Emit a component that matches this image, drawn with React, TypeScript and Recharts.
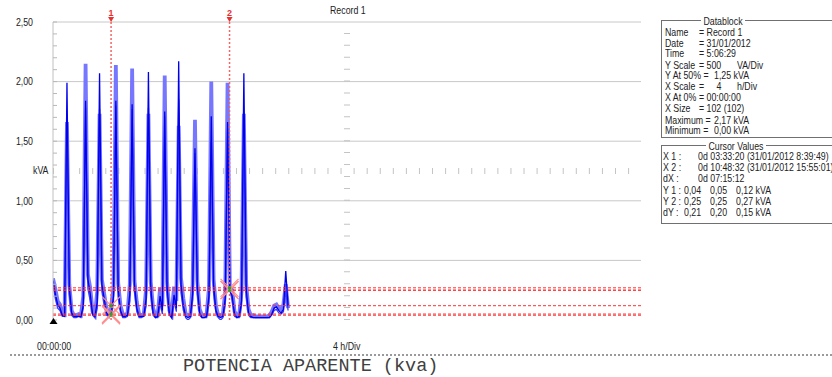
import { LineChart, Line, XAxis, YAxis, CartesianGrid, ReferenceLine, ReferenceDot } from 'recharts';

// one reading every 8.55 min, 102 readings starting at 00:00:00
const STEP_H = 8.55 / 60;

// three channels, kVA
const l1 = [
  0.33, 0.22, 0.13, 0.10, 0.04, 0.03, 1.99, 0.28, 0.06, 0.03,
  0.03, 0.03, 0.03, 0.12, 1.84, 0.34, 0.22, 0.05, 0.03, 0.15,
  2.07, 0.30, 0.18, 0.06, 0.03, 0.04, 0.20, 1.84, 0.26, 0.08,
  0.03, 0.03, 0.04, 0.22, 1.81, 0.30, 0.10, 0.03, 0.03, 0.03,
  0.18, 2.08, 0.27, 0.06, 0.02, 0.03, 0.20, 0.08, 1.75, 0.28,
  0.05, 0.02, 0.21, 0.10, 2.17, 0.30, 0.12, 0.03, 0.02, 0.03,
  0.22, 1.44, 0.28, 0.06, 0.02, 0.02, 0.03, 0.20, 1.71, 0.29,
  0.08, 0.03, 0.02, 0.03, 0.18, 1.66, 0.25, 0.20, 0.05, 0.02,
  0.03, 0.16, 2.07, 0.26, 0.06, 0.03, 0.02, 0.02, 0.02, 0.02,
  0.02, 0.02, 0.02, 0.02, 0.05, 0.10, 0.11, 0.08, 0.06, 0.09,
  0.41, 0.12,
];
const l2 = [
  0.30, 0.18, 0.10, 0.08, 0.03, 0.03, 1.70, 0.22, 0.04, 0.02,
  0.02, 0.03, 0.02, 0.10, 1.78, 0.26, 0.16, 0.04, 0.02, 0.10,
  1.77, 0.24, 0.12, 0.04, 0.03, 0.05, 0.15, 1.80, 0.20, 0.06,
  0.02, 0.02, 0.03, 0.16, 1.77, 0.24, 0.07, 0.02, 0.02, 0.03,
  0.12, 1.78, 0.21, 0.04, 0.02, 0.02, 0.14, 0.05, 1.71, 0.22,
  0.04, 0.02, 0.16, 0.07, 1.85, 0.23, 0.08, 0.02, 0.00, 0.02,
  0.17, 1.40, 0.22, 0.04, 0.02, 0.02, 0.02, 0.15, 1.50, 0.23,
  0.06, 0.02, 0.00, 0.02, 0.13, 1.60, 0.25, 0.16, 0.03, 0.02,
  0.02, 0.12, 1.62, 0.20, 0.04, 0.02, 0.02, 0.02, 0.02, 0.02,
  0.02, 0.02, 0.02, 0.02, 0.04, 0.08, 0.09, 0.06, 0.05, 0.07,
  0.25, 0.08,
];
const l3 = [
  0.35, 0.26, 0.16, 0.13, 0.06, 0.05, 1.66, 0.30, 0.08, 0.04,
  0.04, 0.05, 0.04, 0.20, 2.15, 0.38, 0.27, 0.07, 0.04, 0.24,
  1.73, 0.34, 0.22, 0.09, 0.05, 0.12, 0.28, 2.14, 0.31, 0.12,
  0.05, 0.04, 0.06, 0.30, 2.11, 0.33, 0.15, 0.05, 0.04, 0.05,
  0.26, 1.73, 0.32, 0.10, 0.04, 0.04, 0.27, 0.12, 2.05, 0.32,
  0.08, 0.04, 0.28, 0.16, 1.63, 0.35, 0.18, 0.05, 0.04, 0.04,
  0.30, 1.68, 0.33, 0.09, 0.04, 0.04, 0.05, 0.27, 2.00, 0.34,
  0.12, 0.04, 0.04, 0.05, 0.24, 1.99, 0.27, 0.25, 0.07, 0.04,
  0.04, 0.24, 1.73, 0.30, 0.09, 0.04, 0.04, 0.03, 0.03, 0.03,
  0.03, 0.03, 0.03, 0.04, 0.07, 0.12, 0.13, 0.10, 0.09, 0.13,
  0.30, 0.10,
];

// cursors (hours from start) and the readings under them
const CURSOR_X = [3 + 33 / 60 + 20 / 3600, 10 + 48 / 60 + 32 / 3600];
const CURSOR_TIME = ['0d 03:33:20 (31/01/2012 8:39:49)', '0d 10:48:32 (31/01/2012 15:55:01)'];
const CURSOR_DX = '0d 07:15:12';
const CURSOR_Y1 = [0.04, 0.05, 0.12];
const CURSOR_Y2 = [0.25, 0.25, 0.27];
const CURSOR_DY = [0.21, 0.2, 0.15];

const Y_MAJOR = [0.5, 1, 1.5, 2, 2.5];
const Y_MINOR = Array.from({ length: 26 }, (_, i) => Number((i / 10).toFixed(1)));
const X_MINOR = Array.from({ length: 46 }, (_, i) => Number((i * 0.8).toFixed(1)));

const DATABLOCK = [
  ['Name', '= Record 1', '', ''],
  ['Date', '= 31/01/2012', '', ''],
  ['Time', '= 5:06:29', '', ''],
  ['Y Scale', '= 500', '', 'VA/Div'],
  ['Y At 50% =', '', '1,25 kVA', ''],
  ['X Scale', '=', ' 4', 'h/Div'],
  ['X At 0%', '= 00:00:00', '', ''],
  ['X Size', '= 102 (102)', '', ''],
  ['Maximum =', '', '2,17 kVA', ''],
  ['Minimum =', '', '0,00 kVA', ''],
];

const UI_FONT = '"Liberation Sans", Arial, sans-serif';
const SQUEEZE = 0.8;
const fmt = (v: number) => v.toFixed(2).replace('.', ',');

const rows = l1.map((v, i) => ({ t: i * STEP_H, l1: v, l2: l2[i], l3: l3[i] }));

function KvaTick(props: any) {
  const { x, y, payload } = props;
  const v = payload.value as number;
  const major = Math.abs(v * 2 - Math.round(v * 2)) < 1e-6;
  return (
    <g>
      <line x1={x + 20} x2={x + 24} y1={y} y2={y} stroke="#b8b8b8" />
      {major && (
        <text
          transform={`translate(${x},${y}) scale(${SQUEEZE},1)`}
          dy="0.35em"
          textAnchor="end"
          fontSize={11}
          fontFamily={UI_FONT}
          fill="#222"
        >
          {fmt(v)}
        </text>
      )}
    </g>
  );
}

function CursorTag(props: any) {
  const { viewBox, tag } = props;
  const x = viewBox.x;
  const y = viewBox.y;
  return (
    <g>
      <text x={x} y={y - 6} textAnchor="middle" fontSize={9} fontWeight="bold" fontFamily={UI_FONT} fill="#e83030">
        {tag}
      </text>
      <path d={`M${x - 3},${y - 5} L${x + 3},${y - 5} L${x},${y} Z`} fill="#e83030" />
    </g>
  );
}

function CursorCross(props: any) {
  const { cx, cy } = props;
  return (
    <g stroke="#ff8c8c" strokeWidth={1.2}>
      <line x1={cx - 9} y1={cy - 9} x2={cx + 9} y2={cy + 9} />
      <line x1={cx - 9} y1={cy + 9} x2={cx + 9} y2={cy - 9} />
      <rect x={cx - 1.5} y={cy - 1.5} width={3} height={3} fill="#2e9e2e" stroke="none" />
    </g>
  );
}

// y is the vertical centre of the text line
function Text({ x, y, children, style }: any) {
  return (
    <div
      style={{
        position: 'absolute', left: x, top: y - 5, lineHeight: '10px', whiteSpace: 'pre',
        transform: `scaleX(${SQUEEZE})`, transformOrigin: '0 50%', ...style,
      }}
    >
      {children}
    </div>
  );
}

function GroupBox({ title, titleX, top, height }: any) {
  return (
    <>
      <div style={{ position: 'absolute', left: 661, top, width: 190, height, border: '1px solid #707070' }} />
      <Text x={titleX} y={top + 1} style={{ background: '#fff', padding: '0 3px' }}>{title}</Text>
    </>
  );
}

export default function App() {
  const dbCols = [665, 699, 714, 737];
  const dbRowsY = [32, 43, 53, 65, 75, 86, 97, 108, 120, 130];
  const cvRowsY = [156, 167, 178, 190, 201, 212];
  const yRows = [
    ['Y 1 :', CURSOR_Y1],
    ['Y 2 :', CURSOR_Y2],
    ['dY :', CURSOR_DY],
  ] as [string, number[]][];

  return (
    <div
      style={{
        position: 'absolute', left: 0, top: 0, width: 832, height: 377, overflow: 'hidden',
        background: '#fff', fontFamily: UI_FONT, fontSize: 11, color: '#222',
      }}
    >
      <Text x={330} y={10}>Record 1</Text>
      <Text x={33} y={170}>kVA</Text>

      <div style={{ position: 'absolute', left: 0, top: 0 }}>
        <LineChart width={660} height={330} data={rows} margin={{ top: 22, right: 19, bottom: 10, left: 8 }}>
          <CartesianGrid vertical={false} horizontalValues={Y_MAJOR} stroke="#c8c8c8" />
          <XAxis
            dataKey="t"
            type="number"
            domain={[0, 36]}
            allowDataOverflow
            ticks={X_MINOR}
            interval={0}
            mirror
            height={0}
            tick={false}
            tickSize={3}
            tickLine={{ stroke: '#b8b8b8' }}
            axisLine={{ stroke: '#d0d0d0' }}
          />
          <XAxis
            xAxisId="top"
            orientation="top"
            type="number"
            domain={[0, 36]}
            allowDataOverflow
            ticks={X_MINOR}
            interval={0}
            mirror
            height={0}
            tick={false}
            tickSize={3}
            tickLine={{ stroke: '#b8b8b8' }}
            axisLine={false}
          />
          <YAxis
            type="number"
            domain={[0, 2.5]}
            allowDataOverflow
            ticks={Y_MINOR}
            interval={0}
            width={45}
            tickLine={false}
            tickSize={6}
            tickMargin={14}
            tick={<KvaTick />}
            axisLine={{ stroke: '#c0c0c0' }}
          />
          <YAxis
            yAxisId="right"
            orientation="right"
            type="number"
            domain={[0, 2.5]}
            allowDataOverflow
            ticks={Y_MINOR}
            interval={0}
            mirror
            width={0}
            tick={false}
            tickSize={4}
            tickLine={{ stroke: '#b8b8b8' }}
            axisLine={{ stroke: '#c8c8c8' }}
          />

          {/* centre cross-hair marks */}
          <ReferenceLine x={18} stroke="#c4c4c4" strokeWidth={6} strokeDasharray="1 10.92" />
          <ReferenceLine y={1.25} stroke="#c4c4c4" strokeWidth={6} strokeDasharray="1 12.07" />

          <Line type="linear" dataKey="l3" stroke="#7676ff" strokeWidth={3.8} dot={false} isAnimationActive={false} />
          <Line type="linear" dataKey="l2" stroke="#3a3aff" strokeWidth={1.3} dot={false} isAnimationActive={false} />
          <Line type="linear" dataKey="l1" stroke="#0000ee" strokeWidth={1.3} dot={false} isAnimationActive={false} />

          {[...CURSOR_Y1, ...CURSOR_Y2].map((v, i) => (
            <ReferenceLine key={`h${i}`} y={v} stroke="#ff3030" strokeDasharray="3 2" />
          ))}
          {CURSOR_X.map((x, i) => (
            <ReferenceLine
              key={`v${i}`}
              x={x}
              stroke="#f36464"
              strokeWidth={1.5}
              strokeDasharray="2 2"
              label={(p: any) => <CursorTag {...p} tag={String(i + 1)} />}
            />
          ))}
          {CURSOR_Y1.map((v, i) => (
            <ReferenceDot key={`c1${i}`} x={CURSOR_X[0]} y={v} shape={(p: any) => <CursorCross {...p} />} />
          ))}
          {CURSOR_Y2.map((v, i) => (
            <ReferenceDot key={`c2${i}`} x={CURSOR_X[1]} y={v} shape={(p: any) => <CursorCross {...p} />} />
          ))}
        </LineChart>
      </div>

      {/* X at 0% marker */}
      <svg style={{ position: 'absolute', left: 49, top: 318 }} width={9} height={7}>
        <path d="M4.5,0 L8.5,6 L0.5,6 Z" fill="#000" />
      </svg>

      <Text x={37} y={346}>00:00:00</Text>
      <Text x={333} y={346}>4 h/Div</Text>
      <div style={{ position: 'absolute', left: 10, top: 354, width: 822, borderTop: '2px dotted #9a9a9a' }} />
      <div
        style={{
          position: 'absolute', left: 183, top: 357, lineHeight: '20px', whiteSpace: 'pre',
          fontFamily: '"Courier New", "Liberation Mono", monospace', fontSize: 18.5, color: '#404040',
        }}
      >
        POTENCIA APARENTE (kva)
      </div>

      <GroupBox title="Datablock" titleX={701} top={20} height={116} />
      {DATABLOCK.map((r, i) =>
        r.map((s, j) => (s ? <Text key={`d${i}${j}`} x={dbCols[j]} y={dbRowsY[i]}>{s}</Text> : null))
      )}

      <GroupBox title="Cursor Values" titleX={706} top={145} height={77} />
      <Text x={663} y={cvRowsY[0]}>X 1 :</Text>
      <Text x={698} y={cvRowsY[0]}>{CURSOR_TIME[0]}</Text>
      <Text x={663} y={cvRowsY[1]}>X 2 :</Text>
      <Text x={698} y={cvRowsY[1]}>{CURSOR_TIME[1]}</Text>
      <Text x={663} y={cvRowsY[2]}>dX :</Text>
      <Text x={698} y={cvRowsY[2]}>{CURSOR_DX}</Text>
      {yRows.map(([lab, vals], i) => (
        <div key={lab}>
          <Text x={663} y={cvRowsY[3 + i]}>{lab}</Text>
          <Text x={684} y={cvRowsY[3 + i]}>{fmt(vals[0])}</Text>
          <Text x={710} y={cvRowsY[3 + i]}>{fmt(vals[1])}</Text>
          <Text x={736} y={cvRowsY[3 + i]}>{fmt(vals[2])} kVA</Text>
        </div>
      ))}
    </div>
  );
}
